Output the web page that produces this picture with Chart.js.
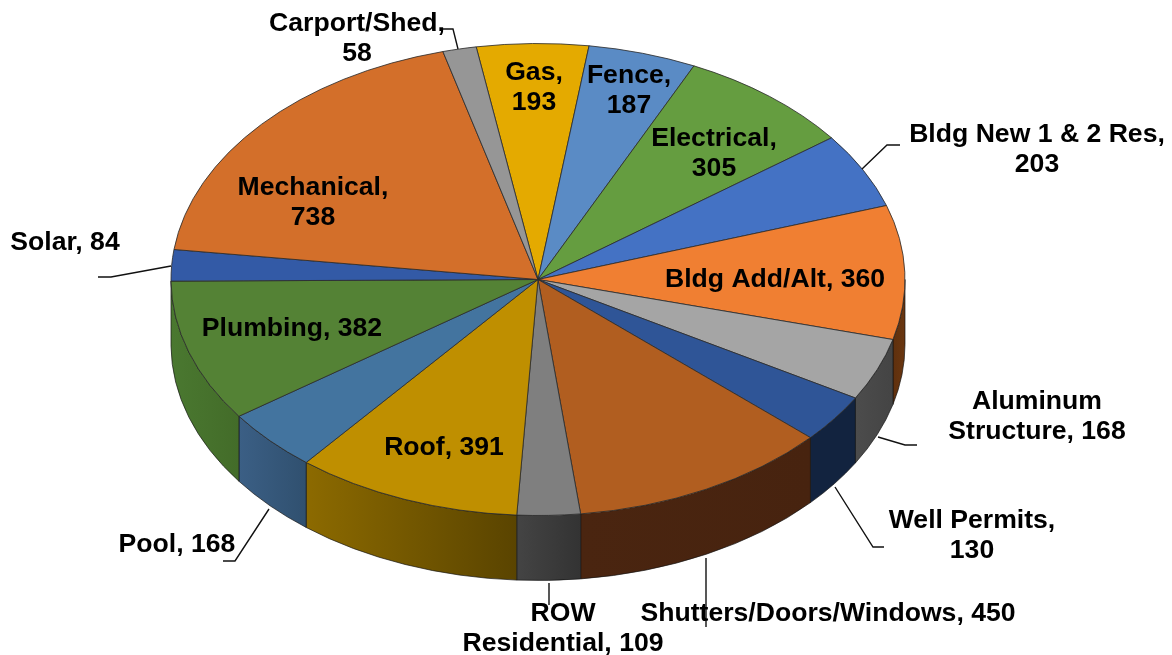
<!DOCTYPE html>
<html>
<head>
<meta charset="utf-8">
<title>Permits by type</title>
<script src="https://cdn.jsdelivr.net/npm/chart.js@4"></script>
<style>
  html, body { margin: 0; padding: 0; background: #fff; }
  canvas { display: block; }
</style>
</head>
<body>
<canvas id="permitPie" width="1172" height="655"></canvas>
<script>
const categories = ["Gas", "Fence", "Electrical", "Bldg New 1 & 2 Res", "Bldg Add/Alt", "Aluminum\nStructure", "Well Permits", "Shutters/Doors/Windows", "ROW\nResidential", "Roof", "Pool", "Plumbing", "Solar", "Mechanical", "Carport/Shed"];
const permits = [193, 187, 305, 203, 360, 168, 130, 450, 109, 391, 168, 382, 84, 738, 58];

const topColors = ["#e4aa00", "#5a8bc5", "#659d40", "#4472c4", "#f07f32", "#a5a5a5", "#2f5597", "#b15e20", "#7f7f7f", "#bf8f00", "#43749f", "#548235", "#335aa6", "#d36f2a", "#969696"];
// side wall colours, left edge then right edge of each slice
const wallLeft = ["#000", "#000", "#000", "#000", "#5f300d", "#4c4c4c", "#12233f", "#4a2510", "#444444", "#8c6a00", "#3b5f85", "#4a7830", "#4a7830", "#000", "#000"];
const wallRight = ["#000", "#000", "#000", "#000", "#6a3610", "#444444", "#12233f", "#47230f", "#333333", "#5a4400", "#30506f", "#436c29", "#4a7830", "#000", "#000"];

// label centre for each slice, wrap puts the value on its own line
const labelSpots = [
  { x: 534, y: 73, wrap: true }, { x: 629, y: 76, wrap: true }, { x: 714, y: 139, wrap: true },
  { x: 1037, y: 135, wrap: true }, { x: 775, y: 280 }, { x: 1037, y: 402 },
  { x: 972, y: 521, wrap: true }, { x: 828, y: 614 }, { x: 563, y: 614 },
  { x: 444, y: 448 }, { x: 177, y: 545 }, { x: 292, y: 329 },
  { x: 65, y: 243 }, { x: 313, y: 188, wrap: true }, { x: 357, y: 24, wrap: true }
];
const leaderLines = [
  [[443, 29], [453, 29], [458, 49]],
  [[900, 145], [887, 145], [862, 169]],
  [[917, 445], [905, 445], [878, 437]],
  [[884, 547], [873, 547], [835, 487]],
  [[706, 558], [706, 627]],
  [[549, 583], [549, 605]],
  [[223, 561], [235, 561], [269, 509]],
  [[98, 277], [111, 277], [171, 266]]
];

const PIE_RADIUS = 367;
const SQUASH = 236 / 367;
const DEPTH = 65;

// tilts the library's pie and draws the rim under it
const tiltPlugin = {
  id: "tilt",
  beforeDatasetDraw(chart) {
    const ctx = chart.ctx;
    const arcs = chart.getDatasetMeta(0).data;
    const cx = arcs[0].x, cy = arcs[0].y;
    const ry = PIE_RADIUS * SQUASH;

    arcs.forEach((arc, i) => {
      // only the part facing the viewer (0 to PI) has a wall
      let a0 = arc.startAngle, a1 = arc.endAngle;
      if (a1 <= 0 || a0 >= Math.PI) return;
      a0 = Math.max(a0, 0);
      a1 = Math.min(a1, Math.PI);
      const x0 = cx + PIE_RADIUS * Math.cos(a0), x1 = cx + PIE_RADIUS * Math.cos(a1);
      const grad = ctx.createLinearGradient(Math.min(x0, x1), 0, Math.max(x0, x1), 0);
      grad.addColorStop(0, wallLeft[i]);
      grad.addColorStop(1, wallRight[i]);
      ctx.beginPath();
      ctx.ellipse(cx, cy, PIE_RADIUS, ry, 0, a0, a1);
      ctx.ellipse(cx, cy + DEPTH, PIE_RADIUS, ry, 0, a1, a0, true);
      ctx.closePath();
      ctx.fillStyle = grad;
      ctx.fill();
      // a sliver at the far edge would only show as a dark line
      if (a1 - a0 > 0.03) {
        ctx.lineWidth = 0.8;
        ctx.strokeStyle = "rgba(20, 20, 20, 0.85)";
        ctx.stroke();
      }
    });

    ctx.save();
    ctx.translate(cx, cy);
    ctx.scale(1, SQUASH);
    ctx.translate(-cx, -cy);
  },
  afterDatasetDraw(chart) {
    chart.ctx.restore();
  },
  afterDraw(chart) {
    const ctx = chart.ctx;
    ctx.save();
    ctx.strokeStyle = "#111";
    ctx.lineWidth = 1.4;
    leaderLines.forEach((pts) => {
      ctx.beginPath();
      pts.forEach((p, i) => (i ? ctx.lineTo(p[0], p[1]) : ctx.moveTo(p[0], p[1])));
      ctx.stroke();
    });

    ctx.fillStyle = "#000";
    ctx.font = 'bold 26.6px "Liberation Sans", Arial, sans-serif';
    ctx.textAlign = "center";
    ctx.textBaseline = "middle";
    categories.forEach((name, i) => {
      const spot = labelSpots[i];
      const text = name + "," + (spot.wrap ? "\n" : " ") + permits[i];
      text.split("\n").forEach((line, n) => ctx.fillText(line, spot.x, spot.y + n * 30));
    });
    ctx.restore();
  }
};

const ctx = document.getElementById("permitPie").getContext("2d");
const permitPie = new Chart(ctx, {
  type: "pie",
  data: {
    labels: categories,
    datasets: [
      {
        data: permits,
        backgroundColor: topColors,
        borderColor: "#2b2b2b",
        borderWidth: 1,
        clip: false,
      },
    ],
  },
  options: {
    responsive: false,
    animation: false,
    rotation: -9.7,
    radius: PIE_RADIUS,
    layout: {
      padding: {
        right: 96, // pie centre sits left of the canvas middle
        bottom: 96,
      },
    },
    plugins: {
      legend: { display: false },
      tooltip: { enabled: false },
    },
  },
  plugins: [tiltPlugin],
});
</script>
</body>
</html>
